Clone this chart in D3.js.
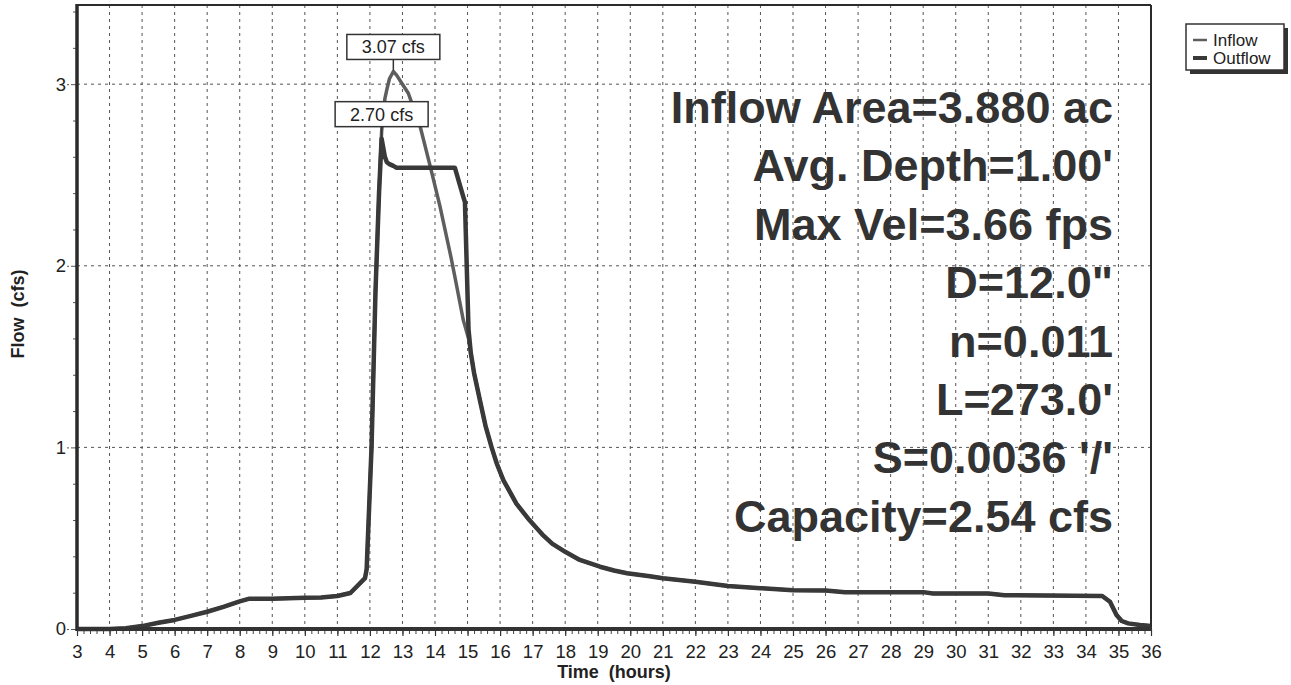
<!DOCTYPE html>
<html>
<head>
<meta charset="utf-8">
<script src="https://cdn.jsdelivr.net/npm/d3@7/dist/d3.min.js"></script>
<style>
  html, body { margin: 0; padding: 0; background: #fff; }
  svg { display: block; }
  text { font-family: "Liberation Sans", Arial, sans-serif; }
</style>
</head>
<body>
<svg id="chart" width="1291" height="685"></svg>
<script>
// Hydrograph: pipe reach inflow vs. outflow (cfs) over a 36 hour storm
const hours = [
  3.0, 4.0, 4.5, 5.0, 5.5, 6.0, 6.5, 7.0, 7.5, 8.0, 8.3, 9.0, 10.0, 10.5, 11.0, 11.4,
  11.85, 11.9, 12.05, 12.17, 12.28, 12.36, 12.46, 12.52, 12.6, 12.72, 12.82, 13.0,
  13.18, 13.28, 13.54, 13.85, 14.15, 14.5, 14.61, 14.87, 14.92, 15.03, 15.1, 15.2,
  15.38, 15.55, 15.74, 15.9, 16.1, 16.5, 16.9, 17.3, 17.6, 18.0, 18.45, 19.07, 19.5,
  19.9, 20.6, 21.0, 22.0, 23.0, 24.0, 25.0, 26.0, 26.6, 29.0, 29.3, 31.0, 31.5, 34.5,
  34.74, 34.94, 35.1, 35.3, 35.66, 36.0
];
const inflowCfs = [
  0, 0, 0.004, 0.016, 0.034, 0.05, 0.072, 0.095, 0.122, 0.152, 0.167, 0.167, 0.172, 0.174, 0.182, 0.198,
  0.28, 0.33, 1.00, 1.85, 2.40, 2.74, 2.92, 2.97, 3.03, 3.07, 3.05, 3.00,
  2.95, 2.90, 2.77, 2.55, 2.33, 2.04, 1.94, 1.70, 1.67, 1.60, 1.52, 1.41,
  1.26, 1.12, 1.00, 0.91, 0.82, 0.69, 0.60, 0.52, 0.47, 0.425, 0.38, 0.343, 0.322,
  0.307, 0.29, 0.279, 0.26, 0.237, 0.225, 0.214, 0.212, 0.203, 0.203, 0.195, 0.196, 0.186, 0.182,
  0.15, 0.077, 0.044, 0.031, 0.022, 0.016
];
const outflowCfs = [
  0, 0, 0.004, 0.016, 0.034, 0.05, 0.072, 0.095, 0.122, 0.152, 0.167, 0.167, 0.172, 0.174, 0.182, 0.198,
  0.28, 0.33, 1.00, 1.85, 2.40, 2.70, 2.60, 2.57, 2.56, 2.55, 2.54, 2.54,
  2.54, 2.54, 2.54, 2.54, 2.54, 2.54, 2.54, 2.38, 2.35, 1.65, 1.52, 1.41,
  1.26, 1.12, 1.00, 0.91, 0.82, 0.69, 0.60, 0.52, 0.47, 0.425, 0.38, 0.343, 0.322,
  0.307, 0.29, 0.279, 0.26, 0.237, 0.225, 0.214, 0.212, 0.203, 0.203, 0.195, 0.196, 0.186, 0.182,
  0.15, 0.077, 0.044, 0.031, 0.022, 0.016
];

const xTickValues = d3.range(3, 37, 1);
const yTickValues = [0, 1, 2, 3];
const seriesNames = ["Inflow", "Outflow"];
const peakLabels = [
  { series: "Inflow", hour: 12.72, cfs: 3.07, text: "3.07 cfs" },
  { series: "Outflow", hour: 12.36, cfs: 2.70, text: "2.70 cfs" }
];
const summaryLines = [
  "Inflow Area=3.880 ac",
  "Avg. Depth=1.00'",
  "Max Vel=3.66 fps",
  "D=12.0\"",
  "n=0.011",
  "L=273.0'",
  "S=0.0036 '/'",
  "Capacity=2.54 cfs"
];

const svg = d3.select("#chart");
const W = 1291, H = 685;
const m = { left: 77, right: 1151, top: 5, bottom: 629 };

svg.append("rect").attr("width", W).attr("height", H).attr("fill", "#fff");

const x = d3.scaleLinear().domain([3, 36]).range([m.left, m.right]);
const y = d3.scaleLinear().domain([0, 3.436]).range([m.bottom, m.top]);

const ink = "#2b2b2b";
const gridColor = "#555";
const inflowColor = "#5e5e5e";
const outflowColor = "#393939";

// grid lines
const grid = svg.append("g");
grid.selectAll("line.v").data(xTickValues.filter(d => d > 3 && d < 36)).join("line")
  .attr("x1", d => x(d)).attr("x2", d => x(d))
  .attr("y1", m.top).attr("y2", m.bottom)
  .attr("stroke", gridColor).attr("stroke-width", 1).attr("stroke-dasharray", "3,4");
grid.selectAll("line.h").data(yTickValues.filter(d => d > 0)).join("line")
  .attr("x1", m.left).attr("x2", m.right)
  .attr("y1", d => y(d)).attr("y2", d => y(d))
  .attr("stroke", gridColor).attr("stroke-width", 1).attr("stroke-dasharray", "3,4");

// x axis: minor ticks, then labelled hourly ticks
const xMinor = svg.append("g").attr("transform", `translate(0,${m.bottom})`);
xMinor.call(d3.axisBottom(x).tickValues(d3.range(3, 36.01, 0.2)).tickSize(5).tickFormat(""))
  .call(g => g.select(".domain").remove())
  .call(g => g.selectAll("line").attr("stroke", "#444").attr("stroke-width", 1));
const xMajor = svg.append("g").attr("transform", `translate(0,${m.bottom})`);
xMajor.call(d3.axisBottom(x).tickValues(xTickValues).tickSize(7).tickPadding(9).tickFormat(d3.format("d")))
  .call(g => g.select(".domain").remove())
  .call(g => g.selectAll("line").attr("stroke", "#333").attr("stroke-width", 1.2))
  .call(g => g.selectAll("text").attr("font-size", 18.5).attr("fill", "#222")
    .attr("font-family", '"Liberation Sans", Arial, sans-serif'));

// y axis: minor ticks, then labelled ticks
const yMinor = svg.append("g").attr("transform", `translate(${m.left},0)`);
yMinor.call(d3.axisLeft(y).tickValues(d3.range(0, 3.41, 0.2)).tickSize(4).tickFormat(""))
  .call(g => g.select(".domain").remove())
  .call(g => g.selectAll("line").attr("stroke", "#555"));
const yMajor = svg.append("g").attr("transform", `translate(${m.left},0)`);
yMajor.call(d3.axisLeft(y).tickValues(yTickValues).tickSize(10).tickPadding(1).tickFormat(d3.format("d")))
  .call(g => g.select(".domain").remove())
  .call(g => g.selectAll("line").attr("stroke", "#555").attr("stroke-dasharray", "2,2"))
  .call(g => g.selectAll("text").attr("font-size", 18.5).attr("fill", "#222")
    .attr("font-family", '"Liberation Sans", Arial, sans-serif'));

// axis titles
svg.append("text")
  .attr("x", 614).attr("y", 678).attr("text-anchor", "middle")
  .attr("font-size", 18).attr("font-weight", "bold").attr("fill", "#222")
  .style("white-space", "pre").text("Time  (hours)");
svg.append("text")
  .attr("transform", "translate(24,314) rotate(-90)").attr("text-anchor", "middle")
  .attr("font-size", 18).attr("font-weight", "bold").attr("fill", "#222")
  .style("white-space", "pre").text("Flow  (cfs)");

// summary annotations
svg.append("g").selectAll("text").data(summaryLines).join("text")
  .attr("x", 1113).attr("y", (d, i) => 123 + i * 58.4)
  .attr("text-anchor", "end")
  .attr("font-size", 45).attr("font-weight", "bold").attr("fill", "#333")
  .text(d => d);

// hydrograph lines
const lineGen = vals => d3.line().x((d, i) => x(hours[i])).y((d, i) => y(vals[i]))(vals);
svg.append("path").attr("d", lineGen(inflowCfs))
  .attr("fill", "none").attr("stroke", inflowColor).attr("stroke-width", 3.5)
  .attr("stroke-linejoin", "round");
svg.append("path").attr("d", lineGen(outflowCfs))
  .attr("fill", "none").attr("stroke", outflowColor).attr("stroke-width", 4.5)
  .attr("stroke-linejoin", "round");

// plot frame
svg.append("line").attr("x1", m.left).attr("x2", m.right).attr("y1", m.top).attr("y2", m.top)
  .attr("stroke", ink).attr("stroke-width", 2);
svg.append("line").attr("x1", m.right).attr("x2", m.right).attr("y1", m.top).attr("y2", m.bottom)
  .attr("stroke", ink).attr("stroke-width", 2);
svg.append("line").attr("x1", m.left).attr("x2", m.left).attr("y1", m.top - 1).attr("y2", m.bottom + 2)
  .attr("stroke", ink).attr("stroke-width", 3.5);
svg.append("line").attr("x1", m.left).attr("x2", m.right + 1).attr("y1", m.bottom).attr("y2", m.bottom)
  .attr("stroke", "#333").attr("stroke-width", 4);

// peak labels
const pl = svg.append("g").selectAll("g").data(peakLabels).join("g");
pl.append("line")
  .attr("x1", d => x(d.hour)).attr("x2", d => x(d.hour))
  .attr("y1", d => y(d.cfs) - 12).attr("y2", d => y(d.cfs) - 1)
  .attr("stroke", "#333").attr("stroke-width", 1.5);
pl.append("rect")
  .attr("x", d => x(d.hour) - 46.5).attr("y", d => y(d.cfs) - 37)
  .attr("width", 93).attr("height", 25)
  .attr("fill", "#fff").attr("stroke", "#333").attr("stroke-width", 1.5);
pl.append("text")
  .attr("x", d => x(d.hour)).attr("y", d => y(d.cfs) - 18)
  .attr("text-anchor", "middle").attr("font-size", 18).attr("fill", "#222")
  .text(d => d.text);

// legend
const lg = svg.append("g");
lg.append("rect").attr("x", 1190).attr("y", 28).attr("width", 98).attr("height", 46).attr("fill", "#333");
lg.append("rect").attr("x", 1186).attr("y", 24).attr("width", 98).attr("height", 46)
  .attr("fill", "#fff").attr("stroke", "#333").attr("stroke-width", 1.5);
const li = lg.selectAll("g.item").data(seriesNames).join("g")
  .attr("transform", (d, i) => `translate(1193,${40 + i * 18})`);
li.append("line").attr("x1", 0).attr("x2", 14).attr("y1", 0).attr("y2", 0)
  .attr("stroke", (d, i) => i === 0 ? inflowColor : outflowColor)
  .attr("stroke-width", (d, i) => i === 0 ? 2.5 : 4);
li.append("text").attr("x", 20).attr("y", 6)
  .attr("font-family", '"DejaVu Sans", Verdana, sans-serif')
  .attr("font-size", 17).attr("fill", "#222").text(d => d);
</script>
</body>
</html>
